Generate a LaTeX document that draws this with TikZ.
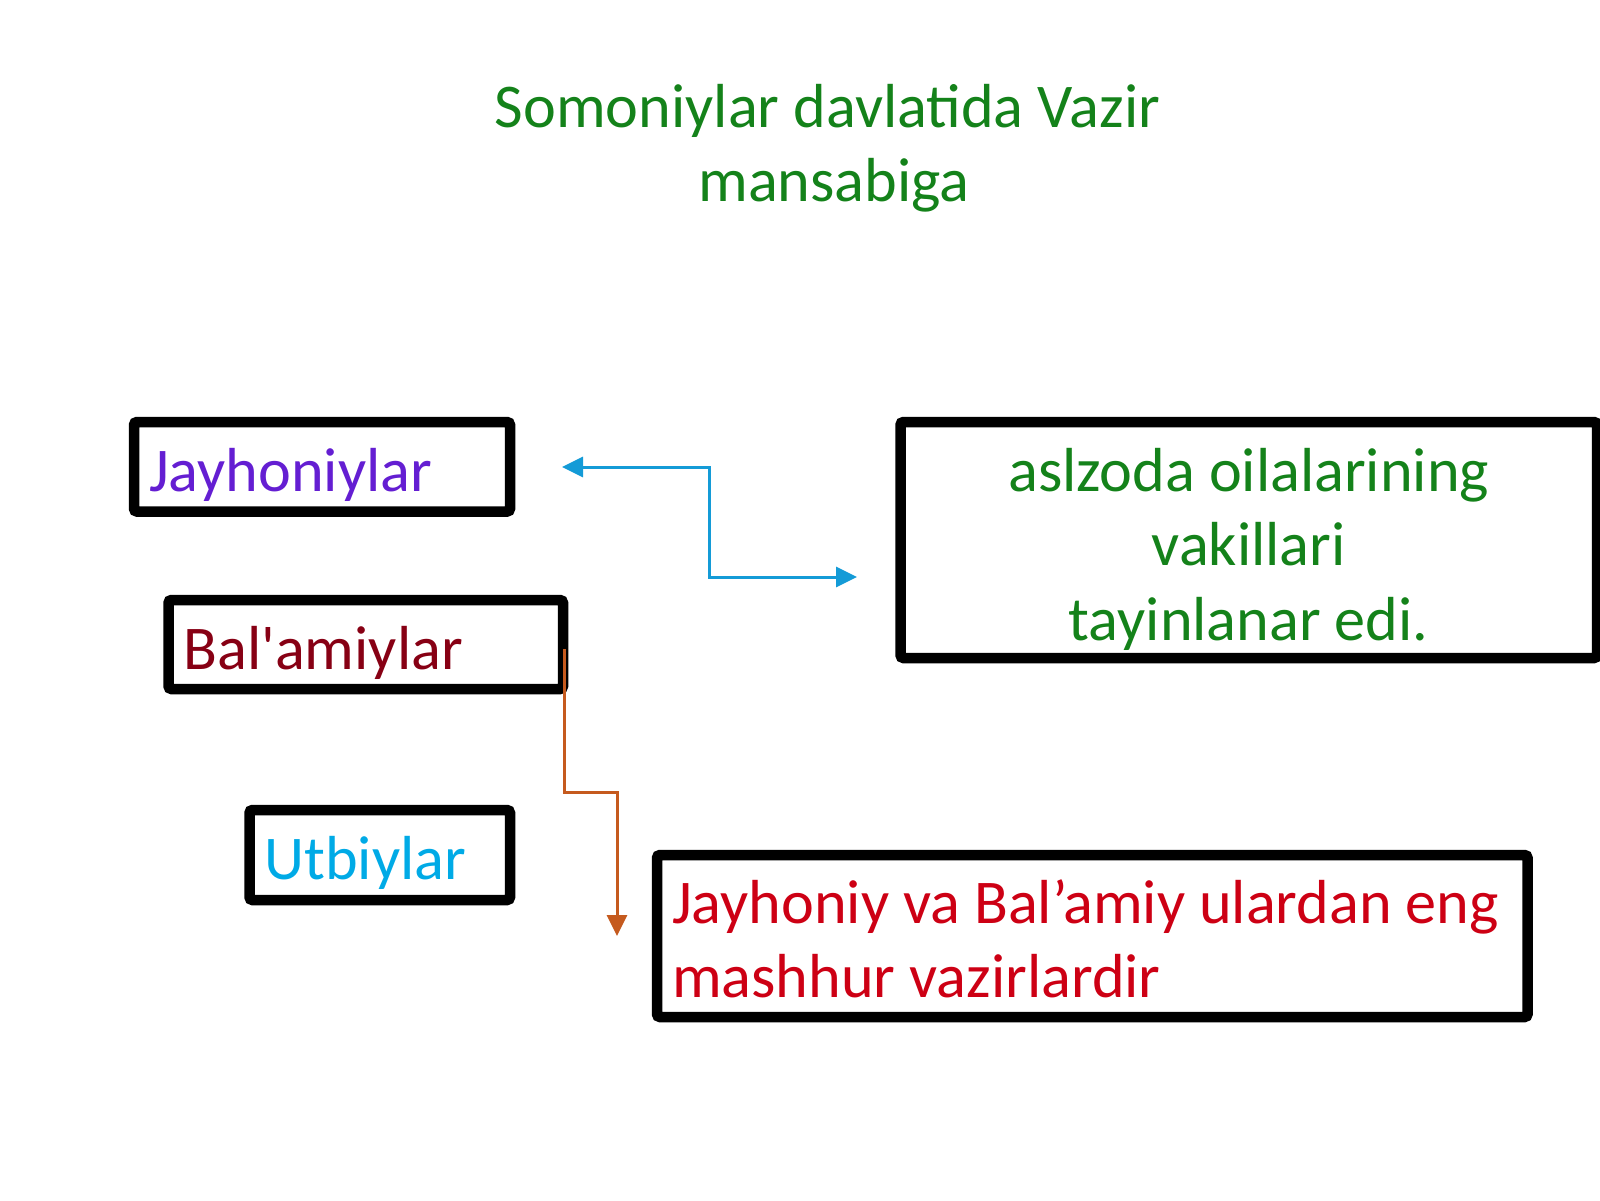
\documentclass[tikz,border=0pt]{standalone}
\usepackage{fontspec}
\setmainfont{Carlito}
\usepackage{tikz}
\usetikzlibrary{arrows.meta}
\definecolor{titlegreen}{RGB}{20,130,26}
\definecolor{jaycol}{RGB}{100,30,210}
\definecolor{balcol}{RGB}{135,0,20}
\definecolor{utbcol}{RGB}{0,170,230}
\definecolor{mashcol}{RGB}{205,0,20}
\definecolor{linkblue}{RGB}{20,155,215}
\definecolor{linkorange}{RGB}{197,90,30}
\newcommand{\slidefont}{\fontsize{17.7}{21.3}\selectfont}

\begin{document}
\begin{tikzpicture}[
    frame/.style={draw,line width=0.105cm,rounded corners=0.03cm,inner xsep=0.15cm,
                  inner ysep=0pt,text height=0.49cm,text depth=0pt,align=flush left,font=\slidefont},
    link/.style={line width=0.03cm,-{Triangle[length=0.21cm,width=0.2cm]}}]
       \useasboundingbox (0,0) rectangle (16,-12);
       \node[font=\slidefont,text=titlegreen,text width=10cm,align=flush center,anchor=base] (title) at (8.275,-1.27)
            {Somoniylar davlatida Vazir\\ \hspace*{0.13cm}mansabiga};
       \node[frame,text=jaycol,minimum width=3.76cm,minimum height=0.895cm,text width=3.46cm] (jay) at (3.22,-4.6675) {Jayhoniylar};
       \node[frame,text=balcol,minimum width=3.945cm,minimum height=0.89cm,text width=3.645cm] (bal) at (3.6575,-6.445) {Bal\textquotesingle amiylar};
       \node[frame,text=utbcol,minimum width=2.605cm,minimum height=0.90cm,text width=2.305cm] (utb) at (3.7975,-8.55) {Utbiylar};
       \node[frame,text=titlegreen,align=flush center,minimum width=6.965cm,minimum height=2.36cm,text width=6.665cm,
             text height=0.4cm,text depth=1.38cm] (asl) at (12.4875,-5.40)
            {aslzoda oilalarining\\ vakillari\\ tayinlanar edi.};
       \node[frame,text=mashcol,minimum width=8.705cm,minimum height=1.62cm,text width=8.405cm,
             text height=0.4cm,text depth=0.66cm] (mash) at (10.9225,-9.36)
            {Jayhoniy va Bal’amiy ulardan eng\\ mashhur vazirlardir};
       % free ends of the connectors
       \coordinate (jaytip) at (5.62,-4.67);
       \coordinate (asltip) at (8.57,-5.77);
       \coordinate (balfoot) at (5.64,-6.49);
       \coordinate (mashtip) at (6.17,-9.36);
       \draw[link,linkblue,{Triangle[length=0.21cm,width=0.2cm]}-{Triangle[length=0.21cm,width=0.2cm]}]
            (jaytip) -- (7.09,-4.67) |- (asltip);
       \draw[link,linkorange] (balfoot) |- (6.17,-7.92) -- (mashtip);
\end{tikzpicture}
\end{document}
